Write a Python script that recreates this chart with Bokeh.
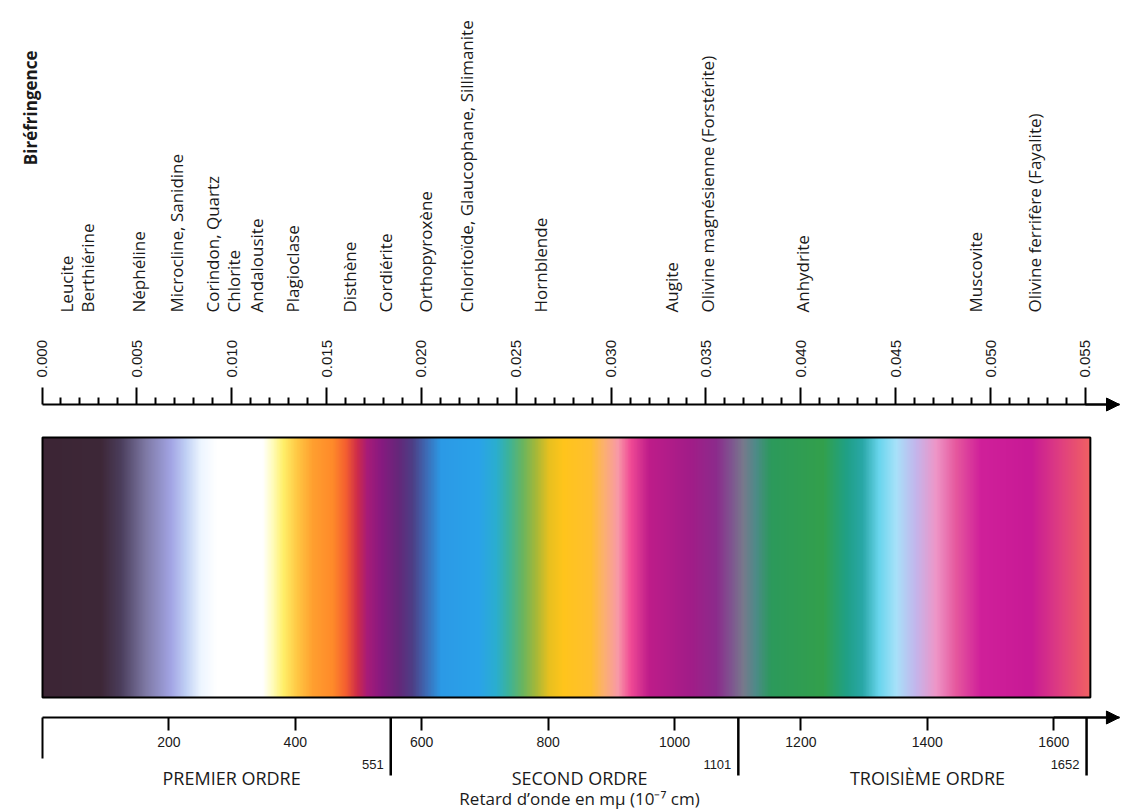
import numpy as np
from math import pi
from bokeh.plotting import figure
from bokeh.models import (Range1d, LinearAxis, FixedTicker, Arrow, NormalHead,
                          NumeralTickFormatter)
from bokeh.core.properties import value
from bokeh.embed import file_html
from bokeh.resources import INLINE

# ---------------- data ----------------
minerals = ["Leucite", "Berthiérine", "Néphéline", "Microcline, Sanidine",
            "Corindon, Quartz", "Chlorite", "Andalousite", "Plagioclase",
            "Disthène", "Cordiérite", "Orthopyroxène",
            "Chloritoïde, Glaucophane, Sillimanite", "Hornblende", "Augite",
            "Olivine magnésienne (Forstérite)", "Anhydrite", "Muscovite",
            "Olivine ferrifère (Fayalite)"]
mineral_biref = [0.0013, 0.0024, 0.0051, 0.0071, 0.0090, 0.0101, 0.0113,
                 0.0132, 0.0162, 0.0181, 0.0202, 0.0224, 0.0263, 0.0332,
                 0.0351, 0.0401, 0.0492, 0.0523]

biref_ticks = [0.000, 0.005, 0.010, 0.015, 0.020, 0.025, 0.030, 0.035,
               0.040, 0.045, 0.050, 0.055]
biref_tick_labels = ["0.000", "0.005", "0.010", "0.015", "0.020", "0.025",
                     "0.030", "0.035", "0.040", "0.045", "0.050", "0.055"]
biref_minor = [round(i * 0.001, 3) for i in range(1, 55) if i % 5]

retard_ticks = [200, 400, 600, 800, 1000, 1200, 1400, 1600]
retard_tick_labels = ["200", "400", "600", "800", "1000", "1200", "1400", "1600"]

order_limits = [551, 1101, 1652]
order_names = ["PREMIER ORDRE", "SECOND ORDRE", "TROISIÈME ORDRE"]

# interference colours (retardation in nm -> colour)
color_stop_nm = [0, 92, 123, 163, 203, 226, 250, 274, 348, 364, 380, 402, 427,
                 459, 479, 497, 513, 535, 563, 585, 606, 630, 690, 717, 737,
                 759, 780, 801, 823, 867, 888, 910, 930, 959, 1025, 1065, 1089,
                 1108, 1128, 1152, 1234, 1271, 1297, 1323, 1350, 1381, 1413,
                 1445, 1484, 1563, 1611, 1658]
color_stop_hex = ["#3c2535", "#3e2838", "#4b3e5c", "#7f7aa6", "#a3a5e5",
                  "#c0d0f5", "#eef6ff", "#ffffff", "#ffffff", "#fffcb8",
                  "#fff06a", "#ffc945", "#ffa030", "#ff8a2a", "#f56030",
                  "#cf2d4a", "#a81c78", "#881a80", "#65287a", "#4e3f86",
                  "#3f6ab4", "#2c9ae6", "#2aa3ea", "#2aaed0", "#3db39a",
                  "#6ab560", "#a5b83a", "#e8c020", "#ffc51c", "#ffbf30",
                  "#fcb070", "#f898a8", "#f04a95", "#be1c8a", "#a21d88",
                  "#8c2c8c", "#7f5590", "#787a8c", "#4d8c88", "#2c9a5c",
                  "#33a04c", "#20a086", "#2aa8a8", "#6ad6ee", "#a8e2fa",
                  "#c4b6ec", "#ee96c8", "#e6589e", "#d0209a", "#c81a96",
                  "#e04080", "#f26262"]
band_max_nm = 1658

# ---------------- layout (pixel-like units, y up) ----------------
W, H = 1122, 809
top_axis_y = 405
band_top, band_bottom = 372, 112
bottom_axis_y = 92
origin_line_bottom = 51
limit_line_bottom = 34
limit_label_y = 45
order_name_y = 32
retard_label_y = 11
mineral_base_y = 497
title_top_y = 759
title_x = -0.0006
biref_axis_end = 0.0568
retard_axis_end = 1704

ink = "#1a1a1a"

p = figure(width=W, height=H, output_backend="svg", toolbar_location=None,
           tools="", x_range=Range1d(-66.46, 1708.86), y_range=Range1d(0, H),
           x_axis_location=None, y_axis_location=None, min_border=0,
           outline_line_color=None, background_fill_color="white",
           border_fill_color="white")
p.xgrid.visible = False
p.ygrid.visible = False
p.extra_x_ranges = {"biref": Range1d(-0.0021877, 0.056958)}

# colour band
xs = np.linspace(0, band_max_nm, 1400)
rgb = np.array([[int(h[1:3], 16), int(h[3:5], 16), int(h[5:7], 16)]
                for h in color_stop_hex], dtype=float)
img = np.empty((2, xs.size), dtype=np.uint32)
view = img.view(dtype=np.uint8).reshape((2, xs.size, 4))
for c in range(3):
    view[:, :, c] = np.interp(xs, color_stop_nm, rgb[:, c]).astype(np.uint8)
view[:, :, 3] = 255
p.image_rgba(image=[img], x=0, y=band_bottom, dw=band_max_nm,
             dh=band_top - band_bottom)
p.quad(left=[0], right=[band_max_nm], bottom=[band_bottom], top=[band_top],
       fill_color=None, line_color="black", line_width=2)

# top axis: birefringence
top_ax = LinearAxis(x_range_name="biref", fixed_location=top_axis_y,
                    bounds=(0, biref_axis_end),
                    ticker=FixedTicker(ticks=biref_ticks, minor_ticks=biref_minor),
                    formatter=NumeralTickFormatter(format="0.000"),
                    major_label_overrides=dict(zip(biref_ticks, biref_tick_labels)),
                    major_label_orientation="vertical",
                    major_label_standoff=10,
                    major_label_text_font="Liberation Sans",
                    major_label_text_font_size="15px",
                    major_label_text_color=ink,
                    axis_line_width=2, axis_line_color="black",
                    major_tick_in=0, major_tick_out=17, major_tick_line_width=2,
                    minor_tick_in=0, minor_tick_out=7, minor_tick_line_width=2)
p.add_layout(top_ax, "above")

# bottom axis: retardation
bot_ax = LinearAxis(fixed_location=bottom_axis_y, bounds=(0, retard_axis_end),
                    ticker=FixedTicker(ticks=retard_ticks, minor_ticks=[]),
                    major_label_overrides=dict(zip(retard_ticks, retard_tick_labels)),
                    major_label_standoff=6,
                    major_label_text_font="Liberation Sans",
                    major_label_text_font_size="14px",
                    major_label_text_color=ink,
                    axis_line_width=2, axis_line_color="black",
                    major_tick_in=0, major_tick_out=13, major_tick_line_width=2,
                    minor_tick_in=0, minor_tick_out=0)
p.add_layout(bot_ax, "below")

# arrow heads
p.add_layout(Arrow(end=NormalHead(size=13, fill_color="black", line_color="black"),
                   x_start=biref_ticks[-1], x_end=biref_axis_end,
                   y_start=top_axis_y, y_end=top_axis_y, x_range_name="biref",
                   line_width=2, line_color="black"))
p.add_layout(Arrow(end=NormalHead(size=13, fill_color="black", line_color="black"),
                   x_start=retard_ticks[-1], x_end=retard_axis_end,
                   y_start=bottom_axis_y, y_end=bottom_axis_y,
                   line_width=2, line_color="black"))

# order boundaries
p.segment(x0=[0], x1=[0], y0=[bottom_axis_y], y1=[origin_line_bottom],
          line_width=2, line_color="black")
p.segment(x0=order_limits, x1=order_limits,
          y0=[bottom_axis_y] * len(order_limits),
          y1=[limit_line_bottom] * len(order_limits),
          line_width=2.5, line_color="black")
p.text(x=order_limits, y=[limit_label_y] * len(order_limits),
       text=[str(v) for v in order_limits], x_offset=-7,
       text_align="right", text_baseline="middle", text_color=ink,
       text_font=value("Liberation Sans"), text_font_size="13px")

starts = [0] + order_limits[:-1]
mids = [(a + b) / 2 for a, b in zip(starts, order_limits)]
p.text(x=mids, y=[order_name_y] * len(mids), text=order_names, x_offset=15,
       text_align="center", text_baseline="middle", text_color=ink,
       text_font=value("Open Sans"), text_font_size="18px")
p.text(x=[mids[1]], y=[retard_label_y],
       text=["Retard d\u2019onde en m\u03bc (10\u207b\u2077 cm)"],
       x_offset=15, text_align="center", text_baseline="middle", text_color=ink,
       text_font=value("Open Sans"), text_font_size="17px")

# mineral names
p.text(x=mineral_biref, y=[mineral_base_y] * len(minerals), text=minerals,
       x_range_name="biref", angle=pi / 2, text_align="left",
       text_baseline="middle", text_color=ink,
       text_font=value("Open Sans"), text_font_size="17px")

# title
p.text(x=[title_x], y=[title_top_y], text=["Biréfringence"], x_range_name="biref",
       angle=pi / 2, text_align="right", text_baseline="middle", text_color=ink,
       text_font=value("Open Sans"), text_font_size="17px", text_font_style="bold")

open("out.html", "w").write(file_html(p, INLINE))
